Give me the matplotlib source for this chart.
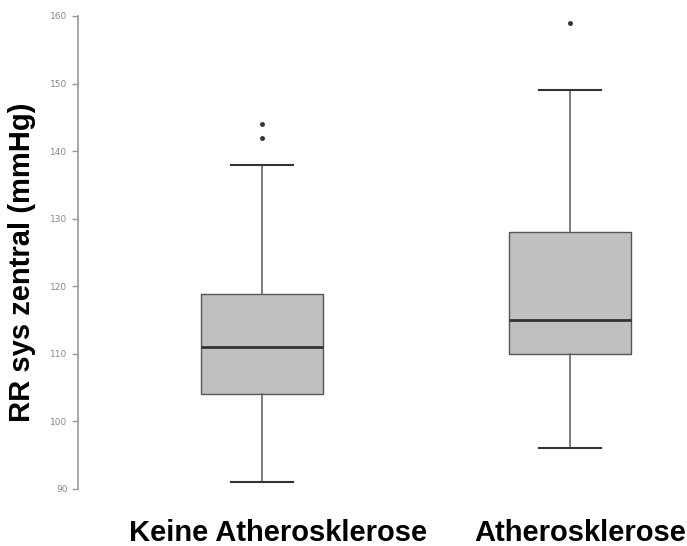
import matplotlib
matplotlib.use("Agg")
import matplotlib.pyplot as plt

groups = ["Keine Atherosklerose", "Atherosklerose"]
q1 = [104, 110]
median = [111, 115]
q3 = [118.8, 128]
whislo = [91, 96]
whishi = [138, 149]
fliers = [[142, 144], [159]]
yticks = [90, 100, 110, 120, 130, 140, 150, 160]

stats = []
for i, g in enumerate(groups):
    stats.append(dict(label=g, q1=q1[i], med=median[i], q3=q3[i],
                      whislo=whislo[i], whishi=whishi[i], fliers=fliers[i]))

fig = plt.figure(figsize=(6.87, 5.46), dpi=100)
ax = fig.add_axes([0.1135, 0.1044, 0.8865, 0.8663])

ax.bxp(stats, positions=[1, 2], widths=0.396, patch_artist=True,
       boxprops=dict(facecolor="#c0c0c0", edgecolor="#555555", linewidth=1),
       medianprops=dict(color="#333333", linewidth=2),
       whiskerprops=dict(color="#666666", linewidth=1.2),
       capprops=dict(color="#333333", linewidth=1.5),
       capwidths=0.2,
       flierprops=dict(marker="o", markersize=2.5, markerfacecolor="#333333",
                       markeredgecolor="#333333"))

ax.set_xlim(0.403, 2.38)
ax.set_ylim(90, 160)
ax.set_yticks(yticks)
ax.set_xticks([])
for s in ["top", "right", "bottom"]:
    ax.spines[s].set_visible(False)
ax.spines["left"].set_color("#999999")
ax.spines["left"].set_linewidth(1.2)
ax.tick_params(axis="y", colors="#999999", length=4, width=1, labelsize=6.5,
               labelcolor="#888888")

fig.text(0.032, 0.52, "RR sys zentral (mmHg)", rotation=90, ha="center",
         va="center", fontsize=21, fontweight="bold", family="Liberation Sans")
fig.text(278 / 687, 1 - 541 / 546, groups[0], ha="center", va="baseline",
         fontsize=21, fontweight="bold", family="Liberation Sans")
fig.text(580 / 687, 1 - 541 / 546, groups[1], ha="center", va="baseline",
         fontsize=21, fontweight="bold", family="Liberation Sans")

fig.savefig("out.png", dpi=100)
